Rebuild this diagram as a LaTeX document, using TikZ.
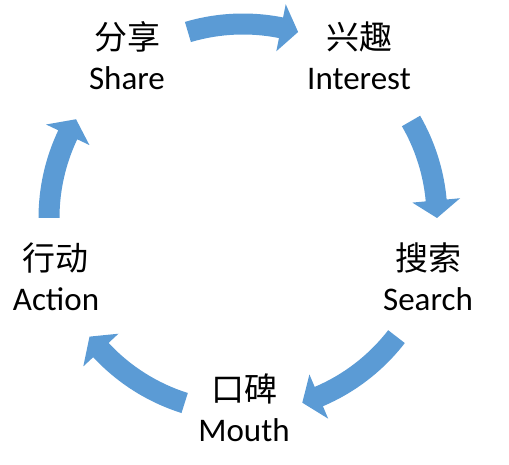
\documentclass[tikz,border=0pt]{standalone}
\usepackage{fontspec}
\setmainfont{Carlito}
\newfontfamily\cjk{Noto Sans CJK SC}
\begin{document}
\begin{tikzpicture}[
  x=1pt, y=1pt,
  lbl/.style={align=center, inner sep=0pt, anchor=base,
    font=\fontsize{33}{40}\selectfont},
  arr/.style={fill=arrowblue, draw=none}
]
\definecolor{arrowblue}{HTML}{5B9BD5}
\useasboundingbox (0,0) rectangle (509,465);
\coordinate (c) at (243,247);

% Labels
\node[lbl] (share)    at (127,375) {{\cjk 分享}\\Share};
\node[lbl] (interest) at (359,375) {{\cjk 兴趣}\\Interest};
\node[lbl] (search)   at (428,154) {{\cjk 搜索}\\Search};
\node[lbl] (mouth)    at (244,23)  {{\cjk 口碑}\\Mouth};
\node[lbl] (action)   at (56,154)  {{\cjk 行动}\\Action};

% Curved arrows (clockwise)
\foreach \a/\b in {106.5/73.5, 30/0, -37.7/-72.2, -107.5/-142.3, 180/149.4} {
  \pgfmathsetmacro\h{\b+5.2}
  \fill[arr] ([shift={(\a:204.5)}]c) arc[start angle=\a, end angle=\h, radius=204.5]
    -- ([shift={(\h:218)}]c) -- ([shift={(\b:194)}]c) -- ([shift={(\h:170)}]c)
    -- ([shift={(\h:183.5)}]c) arc[start angle=\h, end angle=\a, radius=183.5] -- cycle;
}
\end{tikzpicture}
\end{document}
